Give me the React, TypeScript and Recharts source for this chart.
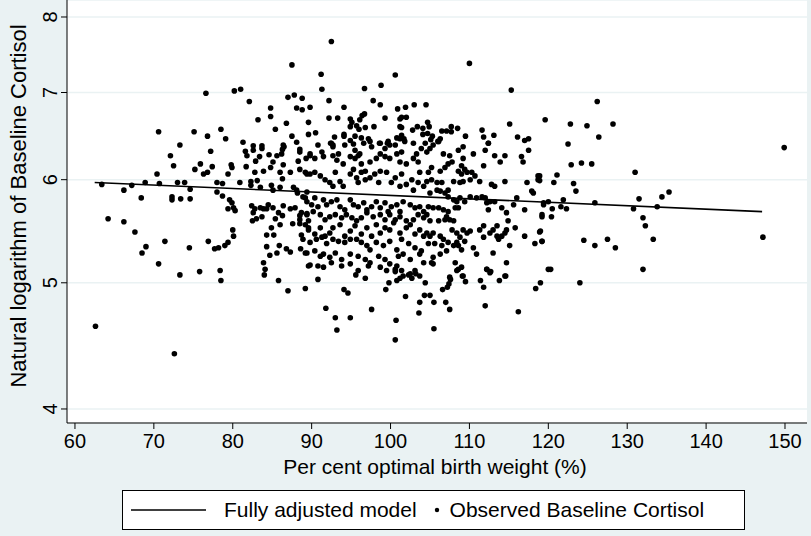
import React from 'react';
import { ScatterChart, Scatter, XAxis, YAxis, CartesianGrid } from 'recharts';

const xTicks = [60, 70, 80, 90, 100, 110, 120, 130, 140, 150];
const yTicks = [4, 5, 6, 7, 8];

// predicted line of the fully adjusted model (ends only)
const fitLine = [
  { x: 62.5, y: 5.97 },
  { x: 147.1, y: 5.67 },
];

// [per cent optimal birth weight, baseline cortisol]
const lowWeightPoints = [
  [87.5, 7.35], [76.6, 6.99], [80.2, 7.02], [81.0, 7.04], [82.1, 6.89], [87.0, 6.94], [87.8, 6.97], [88.8, 6.93],
  [84.8, 6.81], [88.1, 6.81], [88.8, 6.79], [84.8, 6.71], [83.2, 6.67], [86.8, 6.63], [85.4, 6.56], [70.6, 6.53],
  [75.1, 6.53], [78.5, 6.56], [76.8, 6.48], [79.1, 6.45], [73.3, 6.38], [81.3, 6.41], [87.5, 6.48], [88.1, 6.41],
  [89.6, 6.5], [89.6, 6.64], [89.8, 6.82], [86.4, 6.38], [83.7, 6.37], [82.6, 6.37],
  [72.1, 6.26], [77.2, 6.31], [72.5, 6.15], [70.4, 6.06], [75.2, 6.11], [75.9, 6.17], [76.3, 6.06], [76.8, 6.08],
  [77.4, 6.14], [79.8, 6.16], [79.9, 6.13], [79.4, 6.06], [81.6, 6.31], [81.8, 6.26], [82.6, 6.32], [83.7, 6.34],
  [82.9, 6.2], [83.4, 6.25], [81.7, 6.14], [82.8, 6.08], [83.9, 6.09], [84.6, 6.27], [85.1, 6.19], [84.8, 6.13],
  [85.6, 6.26], [86.2, 6.28], [86.5, 6.36], [86.3, 6.33], [88.5, 6.33], [89.8, 6.28], [89.3, 6.23], [88.3, 6.2],
  [86.4, 6.16], [86.0, 6.08], [87.3, 6.08], [88.5, 6.11], [89.4, 6.06],
  [63.4, 5.95], [66.2, 5.89], [67.2, 5.94], [68.9, 5.97], [70.7, 5.96], [73.0, 5.97], [73.9, 5.97], [74.6, 5.9],
  [78.0, 5.97], [78.7, 5.96], [78.0, 5.87], [78.7, 5.83], [80.9, 5.97], [82.3, 5.98], [82.3, 5.94], [83.1, 5.99],
  [83.5, 5.92], [84.9, 5.94], [85.1, 5.89], [86.0, 5.92], [86.3, 6.01], [87.7, 5.92], [88.1, 5.89], [88.2, 5.86],
  [89.4, 5.87], [89.2, 5.81], [68.4, 5.81], [72.3, 5.82], [72.3, 5.79], [73.4, 5.8], [74.6, 5.8],
  [64.2, 5.6], [66.2, 5.57], [67.6, 5.47], [71.4, 5.38], [69.0, 5.33], [68.5, 5.27], [74.5, 5.32], [70.6, 5.17],
  [76.9, 5.38], [77.7, 5.31], [78.2, 5.32], [79.0, 5.34], [79.4, 5.37], [80.0, 5.49], [80.1, 5.43],
  [79.6, 5.79], [79.9, 5.76], [80.1, 5.71], [80.3, 5.68], [79.4, 5.7],
  [82.4, 5.73], [82.8, 5.7], [83.5, 5.71], [83.9, 5.7], [82.6, 5.66], [83.0, 5.6], [82.5, 5.58], [83.7, 5.62],
  [84.5, 5.74], [84.3, 5.7], [85.1, 5.71], [85.4, 5.6], [84.9, 5.51], [85.2, 5.44], [84.3, 5.44], [85.8, 5.66],
  [86.3, 5.63], [86.0, 5.54], [86.4, 5.73], [87.3, 5.7], [87.6, 5.55], [87.9, 5.71], [88.5, 5.63], [88.5, 5.55],
  [89.4, 5.65], [89.6, 5.58], [89.6, 5.51], [88.7, 5.44], [88.6, 5.31], [89.2, 5.27], [87.3, 5.28], [86.8, 5.31],
  [85.9, 5.34], [84.3, 5.33], [85.6, 5.27], [84.7, 5.25], [83.9, 5.18], [89.8, 5.16],
  [62.6, 4.63], [72.6, 4.41], [73.3, 5.07], [75.8, 5.1], [78.4, 5.11], [78.5, 5.02], [84.0, 5.07], [84.1, 5.12],
  [85.8, 5.02], [87.0, 4.93], [89.2, 4.95],
];

const corePoints = [
  [92.5, 7.66], [110.0, 7.37], [91.2, 7.23], [100.6, 7.22], [91.3, 7.04], [96.7, 7.05], [98.8, 7.09], [115.3, 7.03],
  [92.2, 6.9], [97.8, 6.9], [98.7, 6.85], [94.1, 6.82], [100.9, 6.8], [101.9, 6.82], [103.0, 6.85], [104.5, 6.85],
  [92.2, 6.69], [93.3, 6.69], [99.3, 6.69], [94.9, 6.68], [95.1, 6.64], [96.1, 6.67], [96.4, 6.72], [96.7, 6.74],
  [94.9, 6.59], [95.7, 6.6], [96.0, 6.56], [96.8, 6.58], [97.9, 6.59], [90.5, 6.52], [92.9, 6.47], [94.1, 6.5],
  [94.1, 6.48], [95.5, 6.48], [96.3, 6.46], [97.2, 6.45], [101.2, 6.68], [101.4, 6.7], [102.0, 6.7], [101.2, 6.59],
  [101.4, 6.58], [100.8, 6.46], [101.4, 6.49], [101.7, 6.45], [102.8, 6.55], [103.4, 6.59], [104.1, 6.57], [104.7, 6.64],
  [104.9, 6.59], [104.1, 6.5], [104.7, 6.51], [105.3, 6.48], [105.1, 6.44], [106.5, 6.54], [107.1, 6.54], [107.7, 6.59],
  [107.7, 6.53], [108.5, 6.57], [106.0, 6.42], [109.5, 6.48], [111.6, 6.55], [111.8, 6.47], [112.4, 6.4], [113.1, 6.49],
  [115.1, 6.62], [116.1, 6.47], [117.5, 6.45], [119.6, 6.67], [90.8, 6.38], [92.4, 6.4], [92.7, 6.38], [95.3, 6.39],
  [98.6, 6.4], [99.6, 6.4], [99.9, 6.38],
  [92.5, 6.4], [92.7, 6.36], [94.2, 6.38], [94.9, 6.43], [95.5, 6.32], [96.1, 6.28], [96.6, 6.4], [97.4, 6.42],
  [97.6, 6.36], [98.7, 6.4], [99.3, 6.34], [99.7, 6.42], [100.6, 6.38], [101.2, 6.45], [101.4, 6.3], [101.8, 6.42],
  [102.9, 6.4], [103.3, 6.28], [103.9, 6.34],
  [88.5, 6.3], [89.8, 6.26], [90.4, 6.23], [91.3, 6.3], [91.5, 6.25], [92.7, 6.26], [93.4, 6.28], [93.2, 6.21],
  [94.0, 6.17], [94.9, 6.25], [95.5, 6.23], [95.9, 6.26], [96.3, 6.17], [96.8, 6.09], [97.4, 6.19], [98.2, 6.23],
  [98.7, 6.28], [99.3, 6.25], [99.9, 6.23], [100.8, 6.28], [101.2, 6.19], [102.0, 6.17], [102.9, 6.23], [103.5, 6.19],
  [103.7, 6.08],
  [89.2, 6.08], [89.8, 6.06], [90.4, 6.08], [91.1, 6.04], [91.7, 6.0], [92.3, 5.97], [92.7, 5.93], [93.0, 6.08],
  [93.6, 5.98], [94.0, 5.93], [94.9, 6.06], [95.3, 6.11], [95.7, 6.02], [95.9, 5.97], [96.3, 6.08], [96.8, 6.0],
  [97.4, 6.02], [98.0, 6.06], [98.5, 5.97], [98.7, 6.09], [99.5, 6.08], [100.1, 5.97], [100.6, 6.02], [101.2, 5.93],
  [101.4, 6.06], [102.0, 5.95], [102.7, 6.0], [102.9, 5.89], [103.5, 5.97], [104.2, 5.93],
  [88.9, 5.82], [89.4, 5.77], [90.0, 5.74], [90.4, 5.81], [90.8, 5.72], [91.5, 5.79], [91.9, 5.74], [92.5, 5.77],
  [93.2, 5.79], [93.6, 5.72], [94.2, 5.69], [94.9, 5.79], [95.3, 5.74], [95.9, 5.72], [96.6, 5.76], [97.0, 5.69],
  [97.6, 5.72], [98.2, 5.77], [98.7, 5.71], [99.3, 5.76], [99.7, 5.67], [100.1, 5.72], [100.8, 5.74], [101.2, 5.67],
  [101.6, 5.77], [102.5, 5.74], [103.1, 5.71], [103.7, 5.72], [104.2, 5.67],
  [88.7, 5.66], [89.4, 5.64], [90.2, 5.67], [91.1, 5.64], [91.7, 5.59], [92.3, 5.62], [93.0, 5.64], [93.8, 5.61],
  [94.4, 5.64], [95.1, 5.61], [95.7, 5.58], [96.3, 5.61], [97.0, 5.66], [97.8, 5.62], [98.7, 5.64], [99.3, 5.59],
  [99.9, 5.64], [100.6, 5.59], [101.2, 5.62], [102.0, 5.58], [102.9, 5.59], [103.5, 5.64], [104.2, 5.61],
  [88.5, 5.59], [89.2, 5.54], [89.6, 5.49], [90.4, 5.45], [91.1, 5.51], [91.7, 5.43], [92.3, 5.46], [92.7, 5.51],
  [93.6, 5.54], [94.2, 5.43], [94.9, 5.48], [95.5, 5.53], [96.3, 5.45], [97.0, 5.51], [97.6, 5.43], [98.2, 5.54],
  [98.7, 5.46], [99.3, 5.51], [99.9, 5.49], [100.4, 5.56], [101.2, 5.46], [102.0, 5.51], [102.5, 5.54], [103.1, 5.45],
  [103.7, 5.49], [104.2, 5.43],
  [88.9, 5.4], [89.8, 5.37], [90.6, 5.4], [91.3, 5.42], [91.9, 5.36], [92.7, 5.4], [93.4, 5.38], [94.2, 5.37],
  [94.9, 5.4], [95.7, 5.4], [96.3, 5.37], [97.0, 5.34], [97.4, 5.3], [98.2, 5.37], [99.1, 5.34], [99.9, 5.38],
  [100.8, 5.3], [101.4, 5.4], [102.3, 5.36], [103.1, 5.32], [103.9, 5.29],
  [89.4, 5.27], [90.4, 5.29], [91.1, 5.24], [91.5, 5.26], [92.3, 5.23], [93.0, 5.27], [93.8, 5.21], [94.9, 5.26],
  [95.9, 5.24], [96.8, 5.21], [97.4, 5.18], [98.5, 5.24], [99.3, 5.21], [99.9, 5.17], [101.0, 5.24], [101.6, 5.26],
  [102.5, 5.21], [103.7, 5.26], [104.2, 5.18],
  [89.6, 5.15], [90.8, 5.15], [91.5, 5.14], [92.5, 5.18], [93.8, 5.15], [94.9, 5.17], [95.9, 5.11], [97.2, 5.15],
  [98.7, 5.14], [99.5, 5.11], [100.8, 5.15], [101.4, 5.11], [102.5, 5.08], [103.1, 5.11], [103.7, 5.06],
  [104.6, 6.3], [105.0, 6.34], [105.4, 6.38], [106.1, 6.42], [106.3, 6.45], [104.4, 6.4], [106.7, 6.28], [107.5, 6.26],
  [108.6, 6.32], [109.2, 6.36], [110.5, 6.28], [112.0, 6.32], [112.4, 6.4], [113.2, 6.26], [114.5, 6.26], [116.6, 6.25],
  [117.5, 6.32], [117.0, 6.43], [111.8, 6.15], [113.9, 6.19], [116.8, 6.19],
  [107.3, 6.17], [107.8, 6.19], [106.9, 6.13], [106.3, 6.09], [105.2, 6.13], [104.8, 6.08], [108.6, 6.09], [109.0, 6.06],
  [109.4, 6.11], [109.7, 6.08], [110.3, 6.08], [110.7, 6.04], [109.2, 6.23], [109.0, 6.15],
  [105.9, 5.97], [105.2, 6.0], [104.6, 5.98], [106.5, 5.97], [107.3, 5.89], [108.0, 5.98], [108.8, 5.97], [109.2, 5.98],
  [110.1, 6.0], [111.3, 5.98], [112.8, 5.95], [113.2, 5.93], [114.5, 5.98], [117.3, 5.97], [118.7, 6.04], [118.7, 6.0],
  [117.9, 5.88], [118.1, 5.86],
  [105.0, 5.86], [105.9, 5.89], [106.3, 5.88], [106.9, 5.86], [107.3, 5.82], [108.0, 5.79], [108.4, 5.77], [108.8, 5.81],
  [109.4, 5.77], [110.1, 5.82], [110.9, 5.81], [111.6, 5.82], [112.0, 5.81], [112.2, 5.76], [112.6, 5.77], [113.2, 5.77],
  [112.4, 5.69], [114.1, 5.71], [115.6, 5.74], [116.0, 5.81], [117.0, 5.69], [119.4, 5.74],
  [104.8, 5.72], [105.4, 5.71], [106.1, 5.71], [106.7, 5.69], [107.3, 5.67], [108.2, 5.71], [108.6, 5.71], [107.1, 5.62],
  [106.9, 5.59], [107.5, 5.59], [108.0, 5.58], [105.0, 5.58], [106.1, 5.58], [104.6, 5.64], [114.7, 5.66], [114.9, 5.58],
  [119.2, 5.62],
  [104.6, 5.46], [105.0, 5.43], [105.4, 5.46], [106.3, 5.43], [106.7, 5.4], [107.8, 5.49], [108.4, 5.46], [108.8, 5.42],
  [109.2, 5.49], [109.7, 5.46], [110.1, 5.48], [111.3, 5.49], [111.8, 5.42], [111.8, 5.53], [112.6, 5.46], [113.0, 5.49],
  [113.5, 5.43], [113.5, 5.53], [113.7, 5.4], [114.1, 5.43], [114.5, 5.46], [114.7, 5.49], [115.8, 5.51], [117.0, 5.43],
  [119.0, 5.48], [119.2, 5.38], [118.3, 5.36],
  [104.8, 5.36], [105.6, 5.36], [106.5, 5.34], [107.3, 5.37], [108.0, 5.34], [108.6, 5.34], [109.0, 5.3], [108.4, 5.37],
  [109.4, 5.38], [110.5, 5.32], [110.9, 5.26], [113.0, 5.27], [115.1, 5.34], [105.4, 5.23], [106.3, 5.26], [107.1, 5.29],
  [105.2, 5.18], [105.4, 5.17], [108.2, 5.18], [108.6, 5.12], [109.0, 5.14], [109.2, 5.06], [107.5, 5.05], [112.2, 5.12],
  [112.6, 5.09], [114.7, 5.18], [114.5, 5.06], [120.0, 5.12],
  [90.8, 5.03], [91.8, 4.78], [93.0, 4.7], [93.2, 4.6], [94.1, 4.94], [94.6, 4.91], [94.9, 4.7], [95.6, 5.07],
  [96.8, 5.04], [97.6, 4.77], [99.4, 4.94], [99.8, 5.0], [100.7, 4.68], [100.6, 4.52], [100.8, 5.02], [101.2, 5.04],
  [101.6, 5.06], [102.3, 5.07], [102.7, 5.04], [103.2, 5.08], [100.6, 5.1], [100.6, 5.12], [101.9, 4.88], [103.6, 4.74],
  [103.7, 4.83], [104.4, 5.0], [104.3, 4.89], [105.0, 4.89], [105.5, 4.83], [105.5, 4.61], [106.6, 4.94], [107.0, 4.83],
  [107.2, 4.96], [107.4, 4.99], [107.6, 5.03], [107.5, 4.77], [108.4, 5.11], [109.1, 5.06], [109.5, 5.01], [111.4, 5.02],
  [111.8, 4.96], [112.0, 4.8], [112.2, 5.12], [112.7, 5.1], [113.8, 5.02], [114.6, 5.06], [116.2, 4.75], [118.4, 4.95],
  [119.0, 5.0],
];

const highWeightPoints = [
  [126.2, 6.89], [122.8, 6.62], [124.9, 6.6], [128.2, 6.62], [126.4, 6.47], [122.5, 6.39], [149.9, 6.35],
  [122.9, 6.16], [124.2, 6.18], [125.5, 6.17], [131.0, 6.08], [118.9, 6.04], [118.9, 5.99], [120.7, 5.97], [121.1, 6.05],
  [123.2, 5.96], [123.5, 5.88], [119.4, 5.76], [120.0, 5.77], [121.9, 5.79], [120.5, 5.7], [121.6, 5.72], [122.3, 5.7],
  [125.9, 5.76], [119.2, 5.64], [120.4, 5.62], [118.9, 5.47], [119.2, 5.38], [124.5, 5.39], [125.9, 5.34], [127.5, 5.4],
  [128.5, 5.32], [130.8, 5.7], [131.5, 5.8], [132.0, 5.61], [132.3, 5.53], [133.3, 5.4], [133.8, 5.72], [134.4, 5.82],
  [135.3, 5.87], [147.2, 5.42],
  [124.0, 5.0], [120.3, 5.12], [132.0, 5.12],
];

const observed = [...lowWeightPoints, ...corePoints, ...highWeightPoints].map(([x, y]) => ({ x, y }));

const FONT = '"Liberation Sans", Arial, sans-serif';
const BG = '#EAF2F3';

const Dot = (props: any) => <circle cx={props.cx} cy={props.cy} r={2.8} fill="#000" />;
const NoDot = () => <g />;

const XTick = ({ x, y, payload }: any) => (
  <text x={x} y={y + 17} textAnchor="middle" fontFamily={FONT} fontSize={20} fill="#000">
    {payload.value}
  </text>
);

const YTick = ({ x, y, payload }: any) => (
  <text
    x={x - 2}
    y={y}
    transform={`rotate(-90, ${x - 2}, ${y})`}
    textAnchor="middle"
    fontFamily={FONT}
    fontSize={20}
    fill="#000"
  >
    {payload.value}
  </text>
);

export default function App() {
  return (
    <div style={{ position: 'absolute', left: 0, top: 0, width: 811, height: 536, background: BG }}>
      <ScatterChart width={811} height={536} margin={{ top: 0, right: 4, bottom: 63, left: 0 }}>
        <CartesianGrid vertical={false} stroke={BG} strokeWidth={1.5} fill="#fff" />
        <XAxis
          dataKey="x"
          type="number"
          domain={[58.99, 152.79]}
          ticks={xTicks}
          allowDataOverflow
          height={50}
          tickSize={6}
          stroke="#000"
          tick={<XTick />}
          label={{
            content: () => (
              <text x={435} y={474} textAnchor="middle" fontFamily={FONT} fontSize={21} fill="#000">
                Per cent optimal birth weight (%)
              </text>
            ),
          }}
        />
        <YAxis
          dataKey="y"
          type="number"
          scale="log"
          domain={[3.902, 8.244]}
          ticks={yTicks}
          allowDataOverflow
          width={67}
          tickSize={6}
          stroke="#000"
          tick={<YTick />}
          label={{
            content: () => (
              <text
                x={26}
                y={206}
                transform="rotate(-90, 26, 206)"
                textAnchor="middle"
                fontFamily={FONT}
                fontSize={22}
                fill="#000"
              >
                Natural logarithm of Baseline Cortisol
              </text>
            ),
          }}
        />
        <Scatter data={observed} shape={<Dot />} isAnimationActive={false} />
        <Scatter
          data={fitLine}
          line={{ stroke: '#000', strokeWidth: 1.6 }}
          shape={<NoDot />}
          isAnimationActive={false}
        />
      </ScatterChart>
      <div
        style={{
          position: 'absolute',
          left: 122,
          top: 490,
          width: 621,
          height: 38,
          background: '#fff',
          border: '1px solid #000',
          display: 'flex',
          alignItems: 'center',
          fontFamily: FONT,
          fontSize: 21,
          color: '#000',
        }}
      >
        <svg width={76} height={20} style={{ marginLeft: 8 }}>
          <line x1={0} y1={10} x2={75} y2={10} stroke="#000" strokeWidth={1.6} />
        </svg>
        <span style={{ marginLeft: 17 }}>Fully adjusted model</span>
        <svg width={12} height={20} style={{ marginLeft: 14 }}>
          <circle cx={6} cy={10} r={2.2} fill="#000" />
        </svg>
        <span style={{ marginLeft: 7 }}>Observed Baseline Cortisol</span>
      </div>
    </div>
  );
}
